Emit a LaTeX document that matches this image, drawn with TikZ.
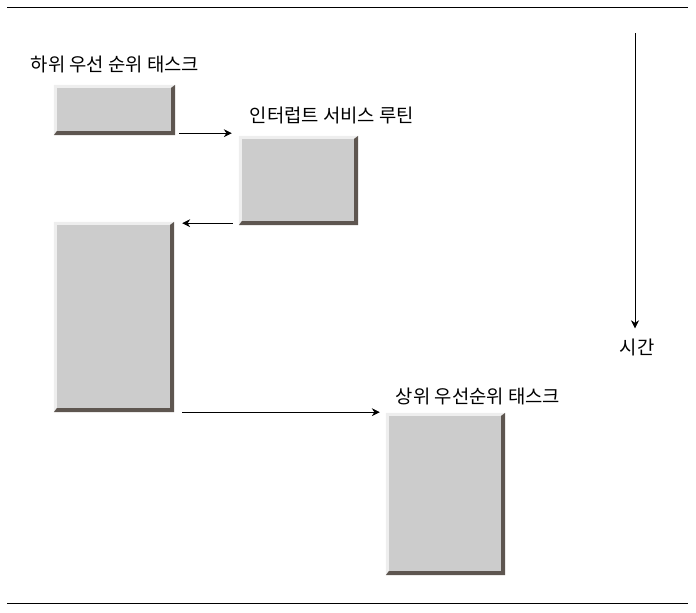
\documentclass[tikz,border=0pt]{standalone}
\usepackage{fontspec}
\usepackage{tikz}
\usetikzlibrary{arrows.meta}
\newfontfamily\kofont{Noto Sans CJK KR}
\definecolor{facegray}{HTML}{CCCCCC}
\definecolor{edgelight}{HTML}{EEEEEE}
\definecolor{edgedark}{HTML}{5E5650}

\tikzset{
  taskbox/.style={fill=facegray, inner sep=0pt},
  tasklabel/.style={font=\kofont\fontsize{18.8}{19}\selectfont, inner sep=0pt},
  flow/.style={-{Stealth[length=8pt,width=8pt]}, line width=0.7pt},
  rule/.style={line width=1pt},
}

% light edge top/left, dark edge bottom/right
\newcommand{\bevelbox}[1]{%
  \fill[edgelight] (#1.south west) -- (#1.north west) -- (#1.north east)
    -- ([shift={(-4pt,-3pt)}]#1.north east) -- ([shift={(3pt,-3pt)}]#1.north west)
    -- ([shift={(3pt,4pt)}]#1.south west) -- cycle;
  \fill[edgedark] (#1.south west) -- (#1.south east) -- (#1.north east)
    -- ([shift={(-4pt,-3pt)}]#1.north east) -- ([shift={(-4pt,4pt)}]#1.south east)
    -- ([shift={(3pt,4pt)}]#1.south west) -- cycle;}

\begin{document}
\begin{tikzpicture}[x=1pt, y=-1pt]
  \useasboundingbox (0,0) rectangle (696,613);

  \coordinate (topl) at (7,7);      \coordinate (topr) at (688,7);
  \coordinate (botl) at (7,603);    \coordinate (botr) at (688,603);
  \draw[rule] (topl) -- (topr);
  \draw[rule] (botl) -- (botr);

  % tasks
  \node[taskbox, minimum width=121pt, minimum height=50pt]  (low1) at (114.5,110) {};
  \node[taskbox, minimum width=119pt, minimum height=89pt]  (isr)  at (298.5,180.5) {};
  \node[taskbox, minimum width=120pt, minimum height=190pt] (low2) at (114,317) {};
  \node[taskbox, minimum width=119pt, minimum height=162pt] (high) at (445.5,494) {};
  \bevelbox{low1}
  \bevelbox{isr}
  \bevelbox{low2}
  \bevelbox{high}

  \node[tasklabel] (lowlbl)  at (115,64)  {하위 우선 순위 태스크};
  \node[tasklabel] (isrlbl)  at (332,115) {인터럽트 서비스 루틴};
  \node[tasklabel] (highlbl) at (478,396) {상위 우선순위 태스크};
  \node[tasklabel] (time)    at (637,347) {시간};

  % switches
  \coordinate (s1) at ([shift={(4pt,2pt)}]low1.south east);
  \draw[flow, shorten >=7pt] (s1) -- (s1 -| isr.west);
  \coordinate (s2) at ([shift={(-6pt,2pt)}]isr.south west);
  \draw[flow, shorten >=8pt] (s2) -- (s2 -| low2.east);
  \coordinate (s3) at ([xshift=8pt]low2.south east);
  \draw[flow, shorten >=6pt] (s3) -- (s3 -| high.west);

  \coordinate (tstart) at (635,33);
  \draw[flow, shorten >=10pt] (tstart) -- (tstart |- time.north);
\end{tikzpicture}
\end{document}
